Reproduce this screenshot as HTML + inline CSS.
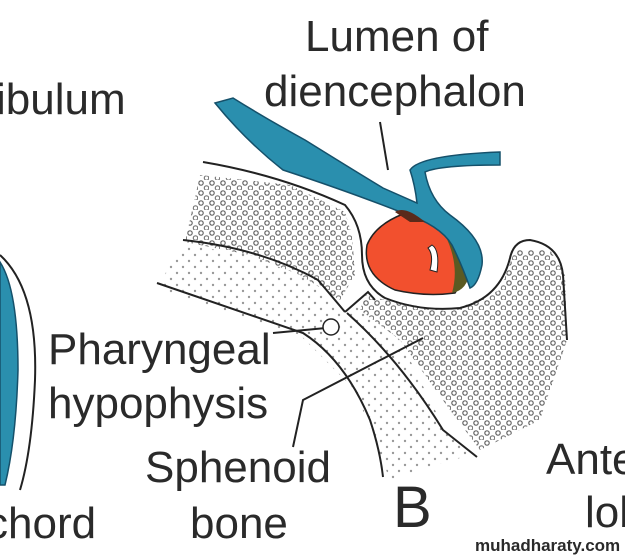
<!DOCTYPE html>
<html><head><meta charset="utf-8"><style>
html,body{margin:0;padding:0;background:#fff;}
svg{display:block;}
text{font-family:"Liberation Sans",Arial,sans-serif;fill:#2a2a2a;}
</style></head><body>
<svg width="625" height="556" viewBox="0 0 625 556" xmlns="http://www.w3.org/2000/svg">
<defs>
<pattern id="big" width="11" height="10" patternUnits="userSpaceOnUse">
<circle cx="3" cy="3" r="2.2" fill="none" stroke="#666" stroke-width="1.2"/>
<circle cx="8.5" cy="8" r="2.2" fill="none" stroke="#777" stroke-width="1.2"/>
</pattern>
<pattern id="small" width="12" height="12" patternUnits="userSpaceOnUse">
<circle cx="3" cy="3" r="1.2" fill="#999"/>
<circle cx="9" cy="9" r="1.2" fill="#999"/>
</pattern>
</defs>
<path d="M200,175 L290,185 L345,212 L352,235 L355,275 L340,300 L300,275 L250,255 L185,242 Z" fill="url(#big)"/>
<path d="M185,245 L250,255 L315,282 L343,312 L360,305 L400,340 L440,420 L470,455 L420,470 L390,480 L355,390 L300,335 L160,290 L170,260 Z" fill="url(#small)"/>
<path d="M365,295 L385,300 L450,312 L500,290 L515,250 L550,250 L565,275 L567,340 L540,420 L480,450 L450,410 L400,340 L360,310 Z" fill="url(#big)"/>
<g fill="none" stroke="#222" stroke-width="2">
<path d="M203,162 Q280,175 345,205 Q362,225 362,255 Q362,285 385,298 Q420,312 460,308 Q500,298 510,258 Q514,240 530,240 Q560,245 563,275 L567,340"/>
<path d="M183,240 Q260,248 318,280 Q335,300 345,312"/>
<path d="M157,283 Q250,315 303,333 Q345,360 370,420 Q380,450 383,477"/>
<path d="M347,313 Q400,360 443,430 L477,457"/>
<path d="M345,312 L368,292 L375,300"/>
<path d="M273,333 L326,328"/>
<path d="M423,338 L303,400 L293,447"/>
<path d="M380,122 L388,170"/>
<path d="M0,255 Q38,290 35,380 Q32,450 20,490"/>
</g>
<circle cx="331" cy="327" r="8" fill="#fff" stroke="#222" stroke-width="1.5"/>
<path d="M0,262 Q18,290 18,370 Q16,440 5,485 L0,485 Z" fill="#2a8fae" stroke="#15506a" stroke-width="1.5"/>
<path d="M403,214 Q375,225 367,245 Q362,275 395,290 Q425,297 455,293 Q470,270 465,245 Q450,222 403,214 Z" fill="#f2502e" stroke="#222" stroke-width="1.5"/>
<path d="M440,222 Q470,240 470,270 Q468,290 452,293 Q460,265 445,235 Z" fill="#5b5a22"/>
<path d="M432,245 Q440,250 437,272 L430,270 Q434,255 428,248 Z" fill="#fff" stroke="#222" stroke-width="1"/>
<path d="M215,103 L233,98 Q265,118 305,140 Q350,168 383,188 L417,203 Q415,185 410,170 Q420,155 500,152 L500,165 Q440,165 425,172 Q430,200 450,215 Q485,240 482,265 Q478,285 470,288 Q462,265 452,245 Q440,225 403,213 Q350,192 283,170 Q245,140 215,103 Z" fill="#2a8fae" stroke="#15506a" stroke-width="1.5"/>
<path d="M395,212 Q405,205 425,222 L410,222 Z" fill="#5a2a1a"/>
<text x="305" y="51" font-size="44">Lumen of</text>
<text x="264" y="106" font-size="44">diencephalon</text>
<text x="-4" y="114" font-size="44">ibulum</text>
<text x="48" y="364" font-size="44">Pharyngeal</text>
<text x="48" y="418" font-size="44">hypophysis</text>
<text x="145" y="482" font-size="44">Sphenoid</text>
<text x="190" y="538" font-size="44">bone</text>
<text x="393" y="527" font-size="58">B</text>
<text x="-14" y="538" font-size="44">chord</text>
<text x="546" y="474" font-size="44">Ante</text>
<text x="585" y="527" font-size="44">lob</text>
<text x="475" y="551" font-size="17" font-weight="bold" fill="#111">muhadharaty.com</text>
</svg>
</body></html>
